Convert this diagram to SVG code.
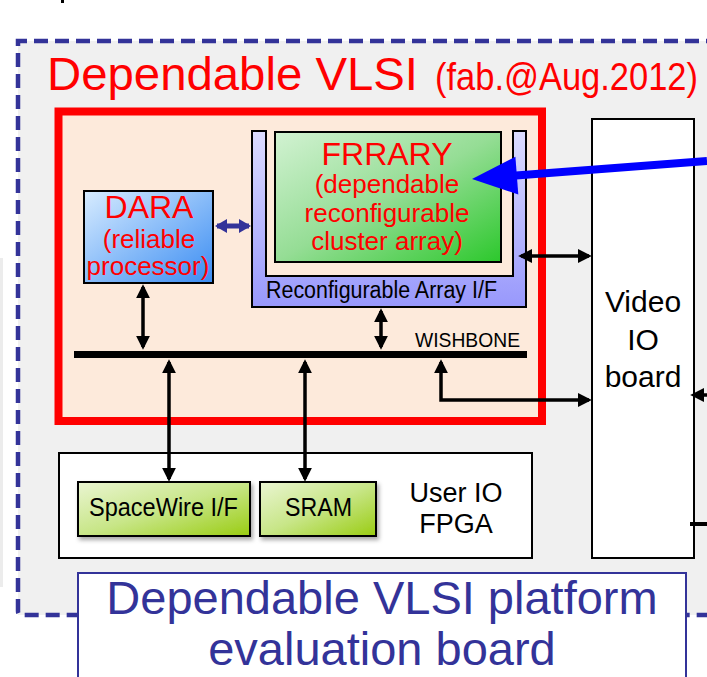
<svg xmlns="http://www.w3.org/2000/svg" width="707" height="677" viewBox="0 0 707 677">
<style>
.sans{font-family:"Liberation Sans",Arial,sans-serif}
.narrow{font-family:"Liberation Sans Narrow","Liberation Sans",Arial,sans-serif}
.red{fill:#ff0000}
.blk{stroke:#000;stroke-width:2}
.conn{stroke:#000;stroke-width:3.5;fill:none}
</style>
<defs>
<linearGradient id="gDara" x1="0" y1="0" x2="1" y2="1"><stop offset="0" stop-color="#d8ecff"/><stop offset="1" stop-color="#3a8cf2"/></linearGradient>
<linearGradient id="gFr" x1="0" y1="0" x2="1" y2="1"><stop offset="0" stop-color="#d2f2d2"/><stop offset="0.5" stop-color="#95dd95"/><stop offset="1" stop-color="#2cc82c"/></linearGradient>
<linearGradient id="gRa" x1="0" y1="0" x2="0" y2="1"><stop offset="0" stop-color="#dcdcff"/><stop offset="1" stop-color="#9898fc"/></linearGradient>
<linearGradient id="gSw" x1="0" y1="0" x2="1" y2="1"><stop offset="0" stop-color="#eaf5d2"/><stop offset="0.5" stop-color="#c8e688"/><stop offset="1" stop-color="#99cc11"/></linearGradient>
<filter id="sh" x="-10%" y="-10%" width="130%" height="140%"><feDropShadow dx="2" dy="3" stdDeviation="2" flood-color="#000" flood-opacity="0.35"/></filter>
<marker id="ah" viewBox="0 0 10 10" refX="8" refY="5" markerWidth="14" markerHeight="14" markerUnits="userSpaceOnUse" orient="auto-start-reverse"><path d="M0,0 L10,5 L0,10 z" fill="#000"/></marker>
<marker id="bh" viewBox="0 0 12 14" refX="10" refY="7" markerWidth="12" markerHeight="14" markerUnits="userSpaceOnUse" orient="auto-start-reverse"><path d="M0,0 L12,7 L0,14 z" fill="#333399"/></marker>
</defs>
<rect x="0" y="0" width="707" height="677" fill="#fff"/>
<rect x="61" y="0" width="3" height="3" fill="#000"/>
<rect x="0" y="258" width="3" height="329" fill="#ececec"/>
<g id="board">
<rect x="18" y="41" width="700" height="574" fill="#f0f0f0"/>
<path d="M720,41 H18 V611 Q18,615 22,615 H720" fill="none" stroke="#333399" stroke-width="4.5" stroke-dasharray="14 7"/>
</g>
<g id="title">
<text x="47" y="90" class="sans red" font-size="46" textLength="371" lengthAdjust="spacingAndGlyphs">Dependable VLSI</text>
<text x="435" y="90" class="sans red" font-size="38" textLength="263" lengthAdjust="spacingAndGlyphs">(fab.@Aug.2012)</text>
</g>
<g id="vlsi">
<rect x="58.5" y="111.5" width="483.5" height="309.5" fill="#fdeadb" stroke="#ff0000" stroke-width="8"/>
</g>
<g id="dara">
<rect x="84" y="191" width="129" height="92" fill="url(#gDara)" class="blk"/>
<text x="149" y="218" class="sans red" font-size="32" text-anchor="middle">DARA</text>
<text x="149" y="248" class="sans red" font-size="26" text-anchor="middle">(reliable</text>
<text x="148" y="275" class="sans red" font-size="26" text-anchor="middle">processor)</text>
</g>
<g id="raif">
<path d="M252,131 H266 V276 H513 V131 H526 V307 H252 Z" fill="url(#gRa)" class="blk"/>
<text x="266" y="298" class="narrow" font-size="23" textLength="231" lengthAdjust="spacingAndGlyphs">Reconfigurable Array I/F</text>
</g>
<g id="frrary">
<rect x="275" y="132" width="226" height="130" fill="url(#gFr)" class="blk"/>
<text x="387" y="165" class="sans red" font-size="32" text-anchor="middle">FRRARY</text>
<text x="387" y="193" class="sans red" font-size="26" text-anchor="middle">(dependable</text>
<text x="387" y="222" class="sans red" font-size="26" text-anchor="middle">reconfigurable</text>
<text x="387" y="250" class="sans red" font-size="26" text-anchor="middle">cluster array)</text>
</g>
<g id="wishbone">
<rect x="74" y="351" width="453" height="7" fill="#000"/>
<text x="415" y="347" class="narrow" font-size="21" textLength="105" lengthAdjust="spacingAndGlyphs">WISHBONE</text>
</g>
<g id="userio">
<rect x="59" y="453" width="473" height="105" fill="#fff" class="blk"/>
<text x="456" y="502" class="sans" font-size="27" text-anchor="middle">User IO</text>
<text x="456" y="533" class="sans" font-size="27" text-anchor="middle">FPGA</text>
</g>
<g id="spacewire">
<rect x="78" y="482" width="172" height="54" fill="url(#gSw)" class="blk" filter="url(#sh)"/>
<text x="89" y="516" class="narrow" font-size="26" textLength="149" lengthAdjust="spacingAndGlyphs">SpaceWire I/F</text>
</g>
<g id="sram">
<rect x="260" y="482" width="116" height="54" fill="url(#gSw)" class="blk" filter="url(#sh)"/>
<text x="285" y="516" class="narrow" font-size="26" textLength="67" lengthAdjust="spacingAndGlyphs">SRAM</text>
</g>
<g id="video">
<rect x="592" y="119" width="102" height="439" fill="#fff" class="blk"/>
<text x="643" y="312" class="sans" font-size="30" text-anchor="middle">Video</text>
<text x="643" y="350" class="sans" font-size="30" text-anchor="middle">IO</text>
<text x="643" y="387" class="sans" font-size="30" text-anchor="middle">board</text>
</g>
<g id="bottombox">
<rect x="78" y="573" width="608" height="115" fill="#fff" stroke="#333399" stroke-width="2"/>
<text x="382" y="614" class="sans" font-size="47" fill="#333399" text-anchor="middle">Dependable VLSI platform</text>
<text x="382" y="665" class="sans" font-size="47" fill="#333399" text-anchor="middle">evaluation board</text>
</g>
<g id="connectors">
<line x1="143" y1="287" x2="143" y2="347" class="conn" marker-start="url(#ah)" marker-end="url(#ah)"/>
<line x1="381" y1="311" x2="381" y2="347" class="conn" marker-start="url(#ah)" marker-end="url(#ah)"/>
<line x1="169" y1="362" x2="169" y2="479" class="conn" marker-start="url(#ah)" marker-end="url(#ah)"/>
<line x1="305" y1="362" x2="305" y2="479" class="conn" marker-start="url(#ah)" marker-end="url(#ah)"/>
<path d="M441,362 V400 H589" class="conn" marker-start="url(#ah)" marker-end="url(#ah)"/>
<line x1="521" y1="256" x2="589" y2="256" class="conn" marker-start="url(#ah)" marker-end="url(#ah)"/>
<line x1="707" y1="395" x2="693" y2="395" class="conn" marker-end="url(#ah)"/>
<line x1="690" y1="524" x2="707" y2="524" stroke="#000" stroke-width="4"/>
<line x1="217" y1="226" x2="249" y2="226" stroke="#333399" stroke-width="5" marker-start="url(#bh)" marker-end="url(#bh)"/>
<line x1="707" y1="161" x2="516" y2="175.6" stroke="#0000ff" stroke-width="8"/>
<polygon points="472,179 518.3,194.5 515.4,156.7" fill="#0000ff"/>
</g>
</svg>
